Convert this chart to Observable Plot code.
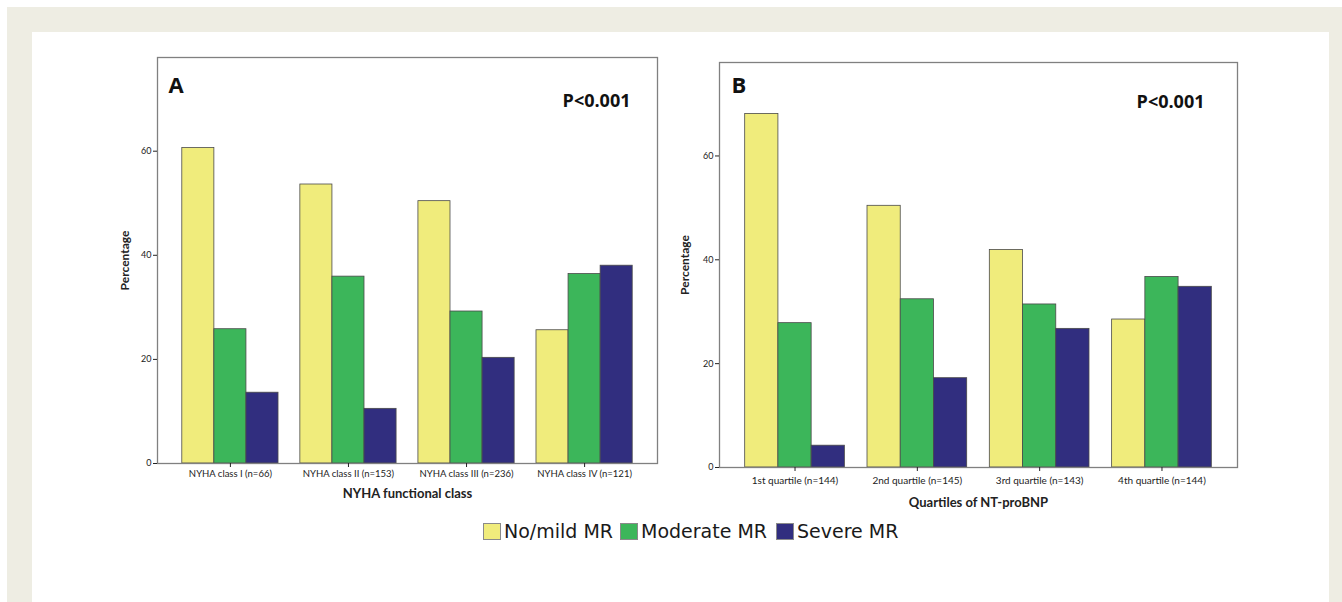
<!DOCTYPE html>
<html><head><meta charset="utf-8">
<script src="https://cdn.jsdelivr.net/npm/d3@7"></script>
<script src="https://cdn.jsdelivr.net/npm/@observablehq/plot@0.6"></script>
<style>
html,body{margin:0;padding:0;background:#fff;}
body{width:1342px;height:602px;position:relative;overflow:hidden;font-family:Lato,sans-serif;}
#outer{position:absolute;left:7px;top:7px;width:1335px;height:595px;background:#eeede3;}
#inner{position:absolute;left:32px;top:32px;width:1297px;height:570px;background:#fff;}
#panelA{position:absolute;left:100px;top:40px;}
#panelB{position:absolute;left:660px;top:40px;}
.lg{position:absolute;top:522px;display:flex;align-items:flex-end;font-family:"DejaVu Sans",sans-serif;font-size:19px;color:#1a1a1a;line-height:1;}
.sw{width:16px;height:15px;border:1px solid #8a8a8a;margin-right:3px;margin-bottom:1px;}
</style></head>
<body>
<div id="outer"></div>
<div id="inner"></div>
<div id="panelA"></div>
<div id="panelB"></div>
<div id="legend"></div>
<script>
const series = ["No/mild MR", "Moderate MR", "Severe MR"];
const colors = ["#f0ec7c", "#3cb65a", "#312e7f"];

const groupsA = ["NYHA class I (n=66)", "NYHA class II (n=153)", "NYHA class III (n=236)", "NYHA class IV (n=121)"];
const noMildA = [60.6, 53.6, 50.4, 25.6];
const moderateA = [25.8, 35.9, 29.2, 36.4];
const severeA = [13.6, 10.5, 20.3, 38.0];

const groupsB = ["1st quartile (n=144)", "2nd quartile (n=145)", "3rd quartile (n=143)", "4th quartile (n=144)"];
const noMildB = [68.1, 50.4, 41.9, 28.5];
const moderateB = [27.8, 32.4, 31.4, 36.7];
const severeB = [4.2, 17.2, 26.7, 34.8];

const yTicks = [0, 20, 40, 60];
const pText = "P<0.001";

const PI = 0.185, PO = 0.21;

function panel(groups, vals, o) {
  const data = [];
  series.forEach((s, i) => groups.forEach((g, j) => data.push({group: g, series: s, value: vals[i][j]})));
  const pw = o.width - o.ml - o.mr;
  const bw = d3.scaleBand().domain(groups).range([0, pw]).paddingInner(PI).paddingOuter(PO).bandwidth();
  const bars = series.map((s, i) => Plot.barY(data.filter(d => d.series === s), {
    x: "group", y: "value", fill: colors[i], stroke: "#4a4a4a", strokeWidth: 0.8,
    insetLeft: i * bw / 3, insetRight: (2 - i) * bw / 3
  }));
  return Plot.plot({
    width: o.width, height: o.height,
    marginLeft: o.ml, marginRight: o.mr, marginTop: o.mt, marginBottom: o.mb,
    style: {fontFamily: "Lato, sans-serif", background: "transparent", color: "#222"},
    x: {domain: groups, paddingInner: PI, paddingOuter: PO, round: false, label: null},
    y: {domain: [0, 78], label: null},
    marks: [
      ...bars,
      Plot.frame({stroke: "#808080", strokeWidth: 1.3}),
      Plot.axisX({tickSize: 4, tickPadding: o.tp, fontSize: o.tickFont, label: null}),
      Plot.axisY({ticks: yTicks, tickSize: 4, tickPadding: 2, fontSize: 9, label: null}),
      Plot.text([o.letter], {text: d => d, frameAnchor: "top-left", textAnchor: "start", lineAnchor: "top", dx: o.letterDx, dy: o.letterDy, fontSize: 22, fontWeight: "bold", fontFamily: "Open Sans", fill: "#111"}),
      Plot.text([pText], {text: d => d, frameAnchor: "top-right", textAnchor: "end", lineAnchor: "top", dx: o.pDx, dy: o.pDy, fontSize: 18, fontWeight: "bold", fontFamily: "Open Sans", fill: "#111"}),
      Plot.text(["Percentage"], {text: d => d, frameAnchor: "left", textAnchor: "middle", lineAnchor: "middle", rotate: -90, dx: o.yTitleDx, fontSize: 12, fontWeight: "bold", fill: "#222"}),
      Plot.text([o.xTitle], {text: d => d, frameAnchor: "bottom", textAnchor: "middle", lineAnchor: "middle", dy: o.xTitleDy, fontSize: 13, fontWeight: "bold", fill: "#222"})
    ]
  });
}

document.getElementById("panelA").append(panel(groupsA, [noMildA, moderateA, severeA], {
  width: 580, height: 473, ml: 57, mr: 23, mt: 17, mb: 50,
  letter: "A", letterDx: 11, letterDy: 20, pDx: -27, pDy: 37, tickFont: 9.5, tp: 3,
  yTitleDx: -32, xTitleDy: 30, xTitle: "NYHA functional class"
}));
document.getElementById("panelB").append(panel(groupsB, [noMildB, moderateB, severeB], {
  width: 600, height: 477, ml: 59, mr: 23, mt: 22, mb: 50,
  letter: "B", letterDx: 12, letterDy: 15, pDx: -33, pDy: 33, tickFont: 10, tp: 5,
  yTitleDx: -34, xTitleDy: 35, xTitle: "Quartiles of NT-proBNP"
}));

const legendX = [483, 620, 776];
const lg = document.getElementById("legend");
series.forEach((s, i) => {
  const it = document.createElement("div");
  it.className = "lg";
  it.style.left = legendX[i] + "px";
  const sw = document.createElement("div");
  sw.className = "sw";
  sw.style.background = colors[i];
  const t = document.createElement("span");
  t.textContent = s;
  it.append(sw, t);
  lg.append(it);
});
</script>
</body></html>
